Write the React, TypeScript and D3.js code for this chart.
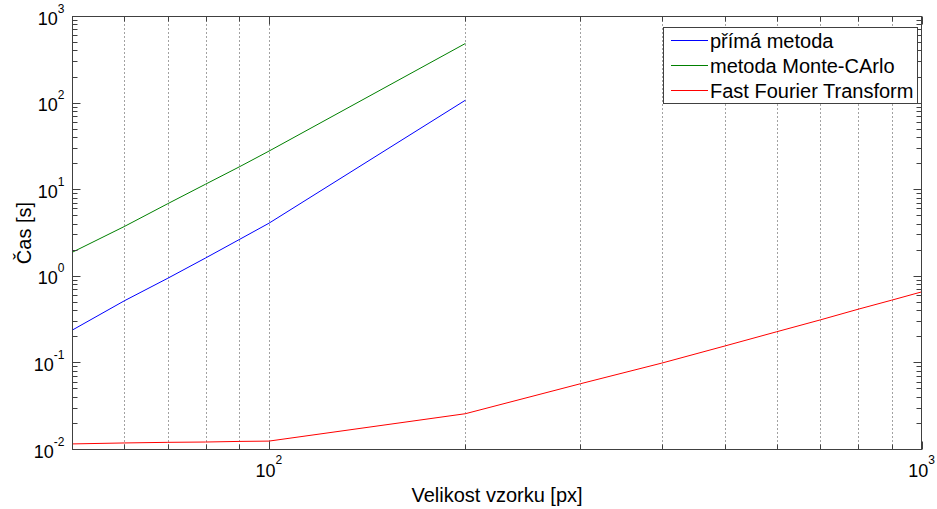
import React from "react";
import * as d3 from "d3";

const sizes = [50, 60, 70, 80, 90, 100, 200];
const directTimes = [0.24, 0.52, 0.95, 1.63, 2.65, 4.1, 108];
const monteCarloTimes = [1.9, 3.75, 6.9, 11.6, 18.3, 27.9, 488];
const fftSizes = [50, 60, 70, 80, 90, 100, 200, 300, 400, 500, 600, 700, 800, 900, 1000];
const fftTimes = [0.0116, 0.0119, 0.0121, 0.0122, 0.0124, 0.0125, 0.0259, 0.0574, 0.0995, 0.157, 0.229, 0.314, 0.417, 0.53, 0.66];
const seriesNames = ["přímá metoda", "metoda Monte-CArlo", "Fast Fourier Transform"];
const seriesColors = ["#0000ff", "#008000", "#ff0000"];
const xMajorTicks = [100, 1000];
const xMinorTicks = [60, 70, 80, 90, 200, 300, 400, 500, 600, 700, 800, 900];
const yMajorTicks = [0.01, 0.1, 1, 10, 100, 1000];
const xLabel = "Velikost vzorku [px]";
const yLabel = "Čas [s]";

const W = 937;
const H = 509;
const L = 72.5, R = 921.5, T = 16.5, B = 449.5;
const AX = "#404040";

export default function App() {
  const x = d3.scaleLog().domain([50, 1000]).range([L, R]);
  const y = d3.scaleLog().domain([0.01, 1000]).range([B, T]);
  const yMinor: number[] = [];
  yMajorTicks.slice(0, -1).forEach((d) => {
    for (let k = 2; k <= 9; k++) yMinor.push(d * k);
  });
  const line = d3
    .line<[number, number]>()
    .x((d) => x(d[0]))
    .y((d) => y(d[1]));
  const series: [number, number][][] = [
    sizes.map((s, i) => [s, directTimes[i]]),
    sizes.map((s, i) => [s, monteCarloTimes[i]]),
    fftSizes.map((s, i) => [s, fftTimes[i]]),
  ];
  const maj = 8, min = 5;
  const font = "'Liberation Sans', Arial, Helvetica, sans-serif";
  const legX = 663.5, legY = 27.5, legW = 254, legH = 76;
  const rowY = [40.5, 65.5, 90.5];

  return (
    <div style={{ position: "absolute", left: 0, top: 0, width: W, height: H, background: "#fff" }}>
      <svg width={W} height={H} style={{ display: "block", fontFamily: font }}>
        <rect x={0} y={0} width={W} height={H} fill="#fff" />
        {/* grid */}
        {[...xMinorTicks, 100].map((t) => (
          <line key={"g" + t} x1={Math.round(x(t)) + 0.5} x2={Math.round(x(t)) + 0.5} y1={T} y2={B}
            stroke="#444" strokeWidth={1} strokeDasharray="1,3" />
        ))}
        {/* series */}
        {series.map((s, i) => (
          <path key={"s" + i} d={line(s) || ""} fill="none" stroke={seriesColors[i]} strokeWidth={1} />
        ))}
        {/* ticks */}
        {xMajorTicks.map((t) => {
          const px = Math.round(x(t)) + 0.5;
          return (
            <g key={"xm" + t}>
              <line x1={px} x2={px} y1={B} y2={B - maj} stroke={AX} />
              <line x1={px} x2={px} y1={T} y2={T + maj} stroke={AX} />
            </g>
          );
        })}
        {xMinorTicks.map((t) => {
          const px = Math.round(x(t)) + 0.5;
          return (
            <g key={"xn" + t}>
              <line x1={px} x2={px} y1={B} y2={B - min} stroke={AX} />
              <line x1={px} x2={px} y1={T} y2={T + min} stroke={AX} />
            </g>
          );
        })}
        {yMajorTicks.map((t) => {
          const py = Math.round(y(t) - 0.5) + 0.5;
          return (
            <g key={"ym" + t}>
              <line x1={L} x2={L + maj} y1={py} y2={py} stroke={AX} />
              <line x1={R} x2={R - maj} y1={py} y2={py} stroke={AX} />
            </g>
          );
        })}
        {yMinor.map((t) => {
          const py = Math.round(y(t) - 0.5) + 0.5;
          return (
            <g key={"yn" + t}>
              <line x1={L} x2={L + min} y1={py} y2={py} stroke={AX} />
              <line x1={R} x2={R - min} y1={py} y2={py} stroke={AX} />
            </g>
          );
        })}
        {/* axes box */}
        <rect x={L} y={T} width={R - L} height={B - T} fill="none" stroke={AX} strokeWidth={1} />
        {/* x tick labels */}
        {xMajorTicks.map((t) => {
          const e = Math.round(Math.log10(t));
          return (
            <text key={"xl" + t} x={x(t)} y={B + 27} fontSize={18} textAnchor="middle" fill="#000">
              10
              <tspan fontSize={12} dy={-13}>{e}</tspan>
            </text>
          );
        })}
        {/* y tick labels */}
        {yMajorTicks.map((t) => {
          const e = Math.round(Math.log10(t));
          return (
            <text key={"yl" + t} x={L - 8} y={y(t) + 8} fontSize={18} textAnchor="end" fill="#000">
              10
              <tspan fontSize={12} dy={-12}>{e < 0 ? "-" + Math.abs(e) : e}</tspan>
            </text>
          );
        })}
        {/* axis labels */}
        <text x={(L + R) / 2} y={502} fontSize={20} textAnchor="middle" fill="#000">{xLabel}</text>
        <text transform={`translate(31,${(T + B) / 2}) rotate(-90)`} fontSize={20} textAnchor="middle" fill="#000">{yLabel}</text>
        {/* legend */}
        <rect x={legX} y={legY} width={legW} height={legH} fill="#fff" stroke={AX} strokeWidth={1} />
        {seriesNames.map((n, i) => (
          <g key={"lg" + i}>
            <line x1={671} x2={708} y1={rowY[i]} y2={rowY[i]} stroke={seriesColors[i]} strokeWidth={1} />
            <text x={710} y={rowY[i] + 7} fontSize={20} fill="#000">{n}</text>
          </g>
        ))}
      </svg>
    </div>
  );
}
